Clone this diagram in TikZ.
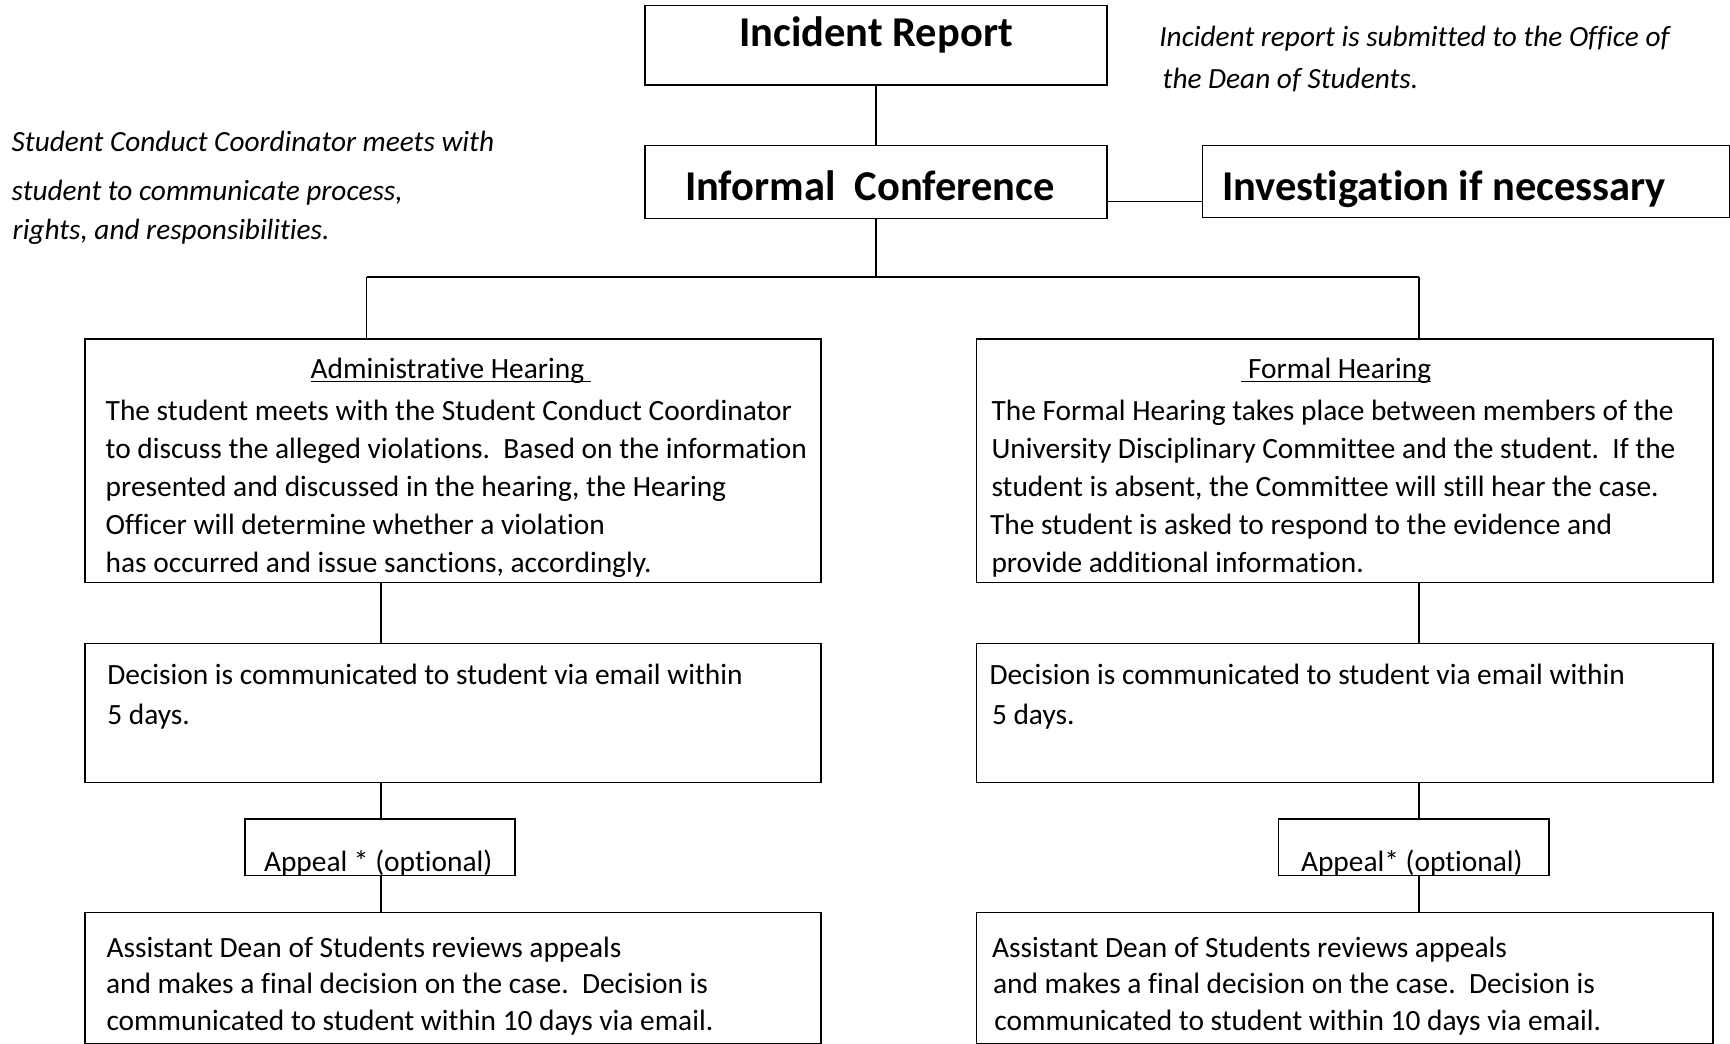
\documentclass[tikz,border=0pt]{standalone}
\usepackage{fontspec}
\setmainfont{Carlito}[Ligatures=NoCommon]
\newcommand\myul[1]{\setbox0\hbox{#1}\rlap{\rule[-3.8pt]{\wd0}{1.4pt}}\box0}
\begin{document}
\begin{tikzpicture}[x=1pt,y=-1pt, line width=1.3pt,
  box/.style={draw, rectangle, inner sep=0pt, outer sep=0pt, anchor=north west},
  txt/.style={inner sep=0pt, outer sep=0pt, anchor=base west, font=\fontsize{29.4}{35}\selectfont},
  head/.style={inner sep=0pt, outer sep=0pt, anchor=base west, font=\fontsize{42.5}{50}\selectfont\bfseries},
  note/.style={inner sep=0pt, outer sep=0pt, anchor=base west, font=\fontsize{29.3}{35}\selectfont\itshape},
  link/.style={draw, line width=1.3pt}]
\useasboundingbox (0,0) rectangle (1730,1044);

% boxes
\node[box, minimum width=462pt, minimum height=79.3pt] (inc) at (645,5.7) {};
\node[box, minimum width=462pt, minimum height=72.6pt] (inf) at (645,145.7) {};
\node[box, minimum width=526.5pt, minimum height=71.6pt] (inv) at (1202.7,145.7) {};
\node[box, minimum width=736pt, minimum height=243.3pt] (adm) at (85,339) {};
\node[box, minimum width=736.5pt, minimum height=243.3pt] (frm) at (976.5,339) {};
\node[box, minimum width=736pt, minimum height=139pt] (dl) at (85,643.2) {};
\node[box, minimum width=736.5pt, minimum height=139pt] (dr) at (976.5,643.2) {};
\node[box, minimum width=270pt, minimum height=56.7pt] (al) at (245,819) {};
\node[box, minimum width=270.3pt, minimum height=56.7pt] (ar) at (1278.7,819) {};
\node[box, minimum width=736pt, minimum height=131.5pt] (fl) at (85,912.3) {};
\node[box, minimum width=736.5pt, minimum height=131.5pt] (fr) at (976.5,912.3) {};

% connector helpers
\coordinate (lk) at (1150,201.7);
\coordinate (jl) at (366.7,277);
\coordinate (jr) at (1419,277);
\coordinate (cl) at (381,700);
\coordinate (cr) at (1419,700);

\draw[link] (inc.south) -- (inf.north);
\draw[link] (inf.east |- lk) -- (inv.west |- lk);
\draw[link] (inf.south) -- (inf.south |- jl);
\draw[link] (jl) -- (jr);
\draw[link] (jl) -- (jl |- adm.north);
\draw[link] (jr) -- (jr |- frm.north);
\draw[link] (adm.south -| cl) -- (dl.north -| cl);
\draw[link] (frm.south -| cr) -- (dr.north -| cr);
\draw[link] (dl.south -| cl) -- (al.north -| cl);
\draw[link] (dr.south -| cr) -- (ar.north -| cr);
\draw[link] (al.south -| cl) -- (fl.north -| cl);
\draw[link] (ar.south -| cr) -- (fr.north -| cr);

% headings
\node[head, anchor=base] (incT) at (876,46.7) {Incident Report};
\node[head] (infT) at (685,200) {Informal\ \ Conference};
\node[head] (invT) at (1222,200) {Investigation if necessary};

% notes
\node[note] (nr1) at (1159.3,46.7) {Incident report is submitted to the Office of};
\node[note] (nr2) at (1162.7,88.3) {the Dean of Students.};
\node[note] (nl1) at (11.7,151.5) {Student Conduct Coordinator meets with};
\node[note] (nl2) at (11.7,200) {student to communicate process,};
\node[note] (nl3) at (12.7,239) {rights, and responsibilities.};

% administrative hearing
\node[txt] (admH) at (310.7,378.3) {\myul{Administrative Hearing\ }};
\node[txt] (adm1) at (105.7,420) {The student meets with the Student Conduct Coordinator};
\node[txt] (adm2) at (105.7,458) {to discuss the alleged violations.\ \ Based on the information};
\node[txt] (adm3) at (105.7,496) {presented and discussed in the hearing, the Hearing};
\node[txt] (adm4) at (105.7,534) {Officer will determine whether a violation};
\node[txt] (adm5) at (105.7,572) {has occurred and issue sanctions, accordingly.};

% formal hearing
\node[txt] (frmH) at (1241.4,378.3) {\myul{\ Formal Hearing}};
\node[txt] (frm1) at (991.5,420) {The Formal Hearing takes place between members of the};
\node[txt] (frm2) at (991.5,458) {University Disciplinary Committee and the student.\ \ If the};
\node[txt] (frm3) at (991.5,496) {student is absent, the Committee will still hear the case.};
\node[txt] (frm4) at (990,534) {The student is asked to respond to the evidence and};
\node[txt] (frm5) at (991.5,572) {provide additional information.};

% decisions
\node[txt] (dl1) at (107.3,684.5) {Decision is communicated to student via email within};
\node[txt] (dl2) at (107.3,724.5) {5 days.};
\node[txt] (dr1) at (989.5,684.5) {Decision is communicated to student via email within};
\node[txt] (dr2) at (992,724.5) {5 days.};

% appeals
\node[txt] (alT) at (264,871.5) {Appeal * (optional)};
\node[txt] (arT) at (1301,871.5) {Appeal* (optional)};

% final
\node[txt] (fl1) at (106.5,957) {Assistant Dean of Students reviews appeals};
\node[txt] (fl2) at (106,993.3) {and makes a final decision on the case.\ \ Decision is};
\node[txt] (fl3) at (106.5,1030) {communicated to student within 10 days via email.};
\node[txt] (fr1) at (992,957) {Assistant Dean of Students reviews appeals};
\node[txt] (fr2) at (993,993.3) {and makes a final decision on the case.\ \ Decision is};
\node[txt] (fr3) at (994.4,1030) {communicated to student within 10 days via email.};
\end{tikzpicture}
\end{document}
